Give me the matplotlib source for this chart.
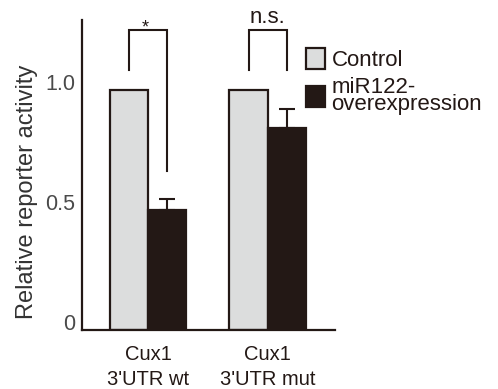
import numpy as np
import matplotlib
matplotlib.use('Agg')
import matplotlib.pyplot as plt
from matplotlib.patches import Patch
from matplotlib.transforms import ScaledTranslation

plt.rcParams['font.family'] = ['Liberation Sans', 'DejaVu Sans']

# data
groups = ['Cux1\n3\'UTR wt', 'Cux1\n3\'UTR mut']
control = [1.0, 1.0]
mir122 = [0.50, 0.84]
mir122_err = [0.045, 0.08]
series_names = ['Control', 'miR122-\noverexpression']
sig_labels = ['*', 'n.s.']
bracket_top = 1.25
bracket_legs = [(1.08, 0.66), (1.08, 1.08)]  # left / right leg bottoms
yticks = [0, 0.5, 1.0]
ytick_labels = ['0', '0.5', '1.0']

ink = '#231815'
grey = '#dcdddd'

fig = plt.figure(figsize=(4.98, 3.89), dpi=100)
ax = fig.add_axes([82 / 498, 59 / 389, 253 / 498, 310 / 389])

x = np.arange(len(groups))
w = 0.32
ax.bar(x - w / 2, control, w, color=grey, edgecolor=ink, linewidth=1.6, zorder=2)
ax.bar(x + w / 2, mir122, w, color=ink, edgecolor=ink, linewidth=1.6, zorder=2)
ax.errorbar(x + w / 2, mir122, yerr=[np.zeros(len(x)), mir122_err], fmt='none',
            ecolor=ink, elinewidth=1.5, capsize=6, capthick=1.5, zorder=3)

# significance brackets
for i, lab in enumerate(sig_labels):
    xl, xr = x[i] - w / 2, x[i] + w / 2
    yl, yr = bracket_legs[i]
    ax.plot([xl, xl, xr, xr], [yl, bracket_top, bracket_top, yr],
            color=ink, lw=1.5, solid_joinstyle='miter', clip_on=False)
    if lab == '*':
        ax.text(x[i] - 0.02, bracket_top - 0.01, lab, ha='center', va='baseline',
                fontsize=13, color=ink, clip_on=False)
    else:
        ax.text(x[i], bracket_top + 0.028, lab, ha='center', va='baseline',
                fontsize=16, color=ink, clip_on=False)

ax.set_xlim(-0.55, 1.56)
ax.set_ylim(0, 1.29)
ax.set_xticks(x)
ax.set_xticklabels(groups, fontsize=14.5, color=ink, linespacing=1.4)
ax.set_yticks(yticks)
ax.set_yticklabels(ytick_labels, fontsize=15.5, color='#4a4a4a')
ax.tick_params(axis='both', length=0)
ax.tick_params(axis='x', pad=11)
ax.tick_params(axis='y', pad=5)
off = ScaledTranslation(0, 8 / 100, fig.dpi_scale_trans)
for lbl in ax.get_yticklabels():
    lbl.set_transform(lbl.get_transform() + off)

ax.set_ylabel('Relative reporter activity', fontsize=17, color='#333333')
ax.yaxis.set_label_coords(-0.174, 0.445)

for s in ['top', 'right']:
    ax.spines[s].set_visible(False)
for s in ['left', 'bottom']:
    ax.spines[s].set_linewidth(1.6)
    ax.spines[s].set_color(ink)

handles = [Patch(facecolor=grey, edgecolor=ink, linewidth=1.6),
           Patch(facecolor=ink, edgecolor=ink, linewidth=1.6)]
leg = ax.legend(handles, series_names, loc='upper left',
                bbox_to_anchor=(0.885, 0.91), frameon=False, fontsize=16,
                borderpad=0, borderaxespad=0, handlelength=0.85,
                handleheight=1.05, handletextpad=0.3, labelspacing=0.3)
for t in leg.get_texts():
    t.set_color(ink)
    t.set_linespacing(0.7)

fig.savefig('out.png', dpi=100)
